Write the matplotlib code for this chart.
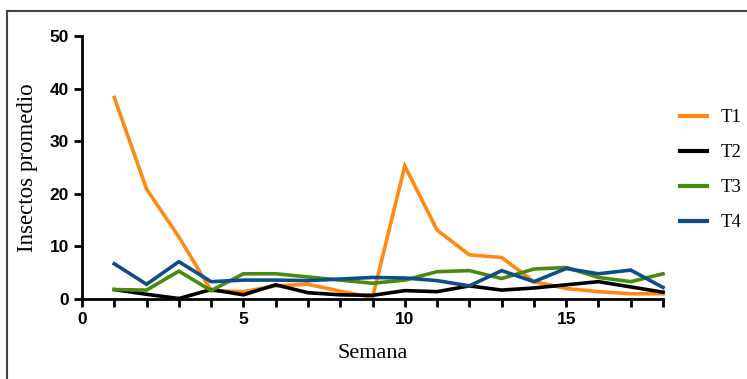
import matplotlib.pyplot as plt
from matplotlib.patches import Rectangle
from matplotlib.ticker import MultipleLocator

# semanas y promedios de insectos por tratamiento
semanas = list(range(1, 19))
t1 = [38.3, 20.9, 11.8, 1.6, 1.4, 2.5, 2.8, 1.5, 0.3, 25.3, 13.1, 8.4, 7.9, 3.3, 2.0, 1.4, 1.0, 1.0]
t2 = [1.8, 0.9, 0.1, 1.8, 0.8, 2.7, 1.2, 0.8, 0.7, 1.6, 1.4, 2.5, 1.7, 2.1, 2.7, 3.3, 2.3, 1.3]
t3 = [1.8, 1.7, 5.3, 1.6, 4.8, 4.8, 4.2, 3.6, 3.0, 3.6, 5.2, 5.4, 3.9, 5.7, 6.0, 4.1, 3.3, 4.8]
t4 = [6.7, 2.8, 7.1, 3.3, 3.6, 3.6, 3.5, 3.8, 4.1, 4.0, 3.5, 2.5, 5.4, 3.3, 5.8, 4.8, 5.5, 2.2]

series = [("T1", t1, "#FF8A12"), ("T2", t2, "#000000"),
          ("T3", t3, "#4A8A0C"), ("T4", t4, "#0F4C8A")]

fig = plt.figure(figsize=(7.47, 3.79), dpi=100)
ax = fig.add_axes([0.1098, 0.211, 0.7778, 0.694])

for nombre, vals, col in series:
    ax.plot(semanas, vals, color=col, lw=2.6, label=nombre, clip_on=False,
            solid_joinstyle="miter")

ax.set_xlim(0, 18)
ax.set_ylim(0, 50)
ax.xaxis.set_major_locator(MultipleLocator(5))
ax.xaxis.set_minor_locator(MultipleLocator(1))
ax.yaxis.set_major_locator(MultipleLocator(10))

for s in ["top", "right"]:
    ax.spines[s].set_visible(False)
for s in ["left", "bottom"]:
    ax.spines[s].set_linewidth(2.0)

ax.tick_params(which="both", direction="out", length=6, width=2.0)
ax.tick_params(axis="y", which="minor", length=0)
for lab in ax.get_xticklabels() + ax.get_yticklabels():
    lab.set_fontfamily("Liberation Sans")
    lab.set_fontweight("bold")
    lab.set_fontsize(12.5)

ax.set_xlabel("Semana", family="Liberation Serif", fontsize=16, labelpad=12)
ax.set_ylabel("Insectos promedio", family="Liberation Serif", fontsize=16.5)
ax.yaxis.set_label_coords(-0.075, 0.5)

leg = ax.legend(loc="center left", bbox_to_anchor=(1.0, 0.49), frameon=False,
                prop={"family": "Liberation Serif", "size": 13.5},
                handlelength=1.45, labelspacing=0.95, handletextpad=0.7)
for h in leg.legend_handles:
    h.set_linewidth(3)

# marco gris alrededor de la figura
fig.add_artist(Rectangle((0.0094, -0.02), 1.1, 0.991, transform=fig.transFigure,
                         fill=False, ec="#444444", lw=1.5))

fig.savefig("out.png", dpi=100)
